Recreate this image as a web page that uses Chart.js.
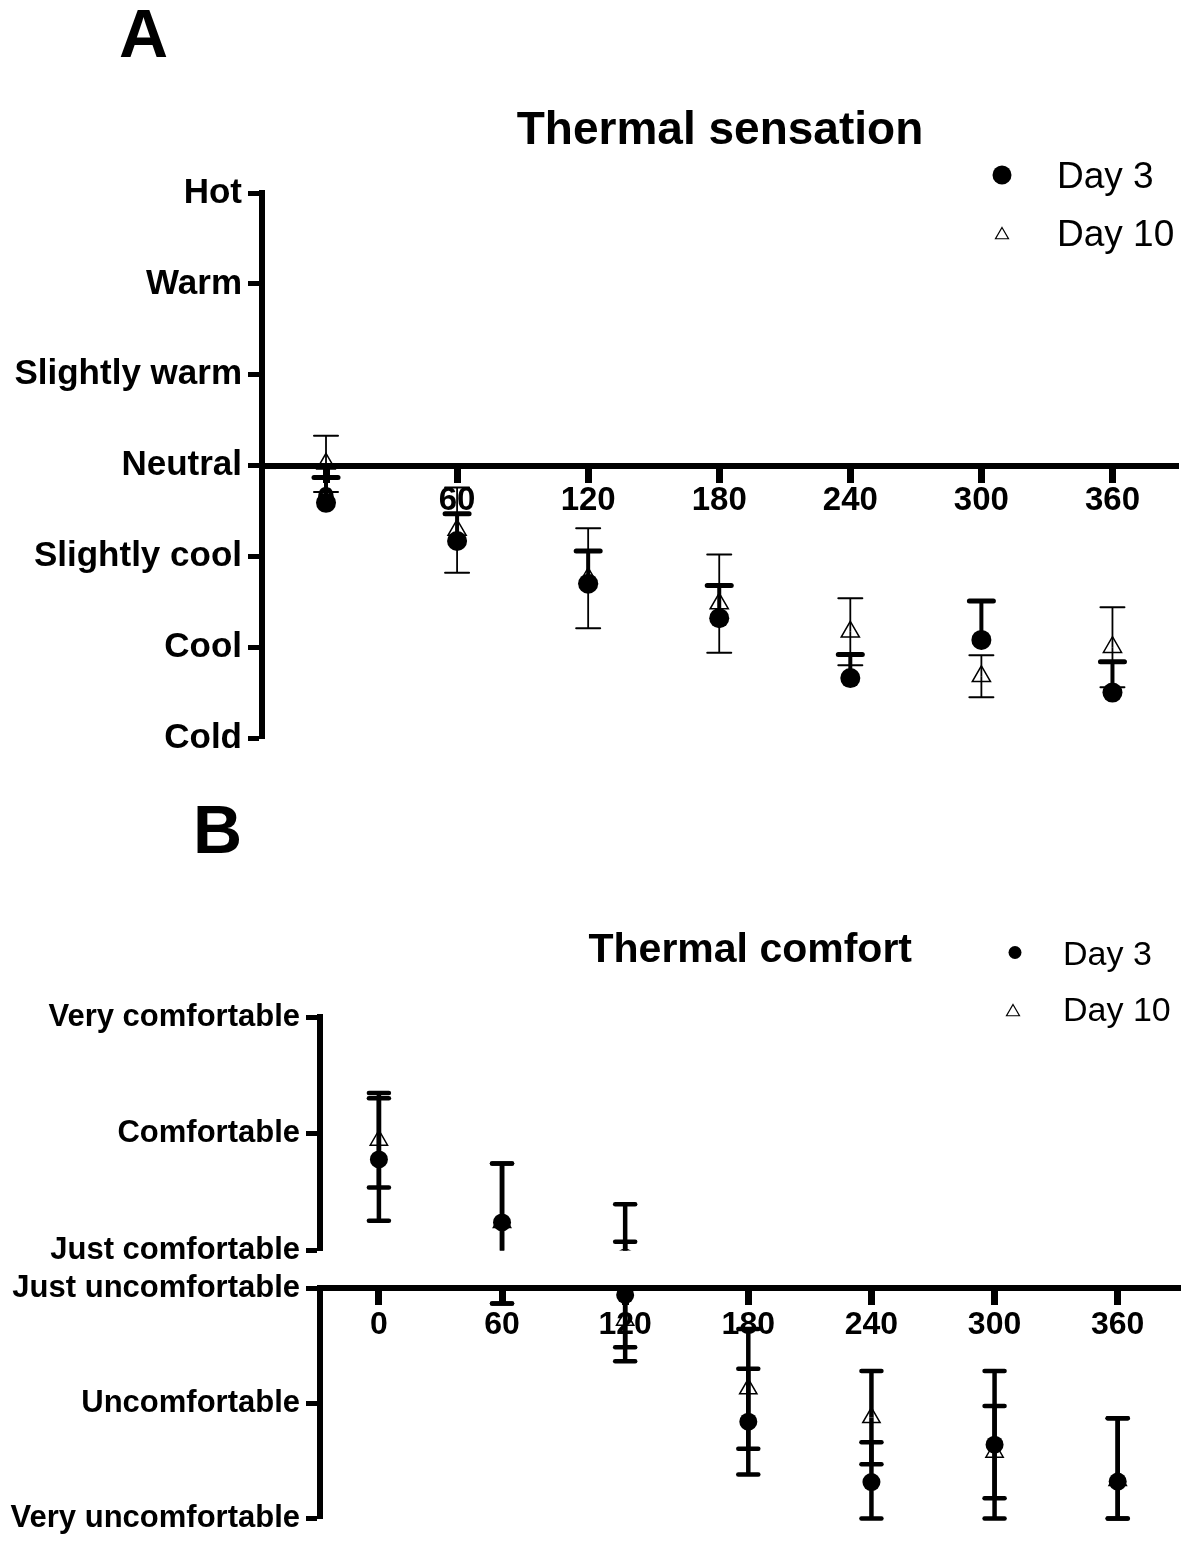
<!DOCTYPE html>
<html>
<head>
<meta charset="utf-8">
<script src="https://cdn.jsdelivr.net/npm/chart.js@4.4.1/dist/chart.umd.min.js"></script>
<style>
html,body{margin:0;padding:0;background:#fff;}
#wrap{position:relative;width:1192px;height:1543px;overflow:hidden;background:#fff;}
canvas{position:absolute;left:0;}
.panel{position:absolute;font-family:'Liberation Sans',Arial,Helvetica,sans-serif;font-weight:bold;font-size:68px;line-height:68px;color:#000;}
</style>
</head>
<body>
<div id="wrap">
  <div class="panel" style="left:119px;top:-1px">A</div>
  <div class="panel" style="left:193px;top:795px">B</div>
  <canvas id="chartA" width="1192" height="790" style="top:0;width:1192px;height:790px"></canvas>
  <canvas id="chartB1" width="1192" height="485" style="top:790px;width:1192px;height:485px"></canvas>
  <canvas id="chartB2" width="1192" height="281" style="top:1262px;width:1192px;height:281px"></canvas>
</div>
<script>
// ---------------- DATA ----------------
const timePoints = [0, 60, 120, 180, 240, 300, 360];

// Panel A: thermal sensation
const sensationTickValues = [-3, -2, -1, 0, 1, 2, 3];
const sensationTickLabels = ['Cold', 'Cool', 'Slightly cool', 'Neutral', 'Slightly warm', 'Warm', 'Hot'];
const sensationDay3 = [-0.41, -0.83, -1.30, -1.68, -2.34, -1.92, -2.50];
const sensationDay3ErrUp = [0.28, 0.30, 0.36, 0.36, 0.26, 0.43, 0.34];
const sensationDay3ErrDown = [null, null, null, null, null, null, null];
const sensationDay10 = [0.02, -0.71, -1.24, -1.52, -1.83, -2.32, -2.00];
const sensationDay10Err = [0.31, 0.47, 0.55, 0.54, 0.37, 0.23, 0.44];

// Panel B: thermal comfort (broken axis: +0 ... +4 above, -4 ... -0 below)
const comfortUpperTickValues = [0, 2, 4];
const comfortUpperTickLabels = ['Just comfortable', 'Comfortable', 'Very comfortable'];
const comfortLowerTickValues = [-4, -2, 0];
const comfortLowerTickLabels = ['Very uncomfortable', 'Uncomfortable', 'Just uncomfortable'];
const comfortDay3 = [1.56, 0.48, -0.12, -2.32, -3.37, -2.72, -3.36];
const comfortDay3ErrUp = [1.05, 1.01, 0.91, 0.92, 0.69, 1.28, 1.10];
const comfortDay3ErrDown = [1.05, 0.75, 0.91, 0.92, 0.69, 1.28, 1.10];
const comfortDay10 = [1.89, 0.48, -0.56, -1.75, -2.25, -2.85, -3.34];
const comfortDay10ErrUp = [0.81, 1.01, 0.71, 1.04, 0.81, 0.80, 1.08];
const comfortDay10ErrDown = [0.81, 0.75, 0.71, 1.04, 0.81, 0.80, 1.08];

const seriesLabels = ['Day 3', 'Day 10'];

// ---------------- HELPERS ----------------
const FONT = "'Liberation Sans', Arial, Helvetica, sans-serif";
Chart.defaults.font.family = FONT;
Chart.defaults.color = '#000';

function drawMarker(ctx, style, x, y, r, fill, stroke, bw) {
  ctx.beginPath();
  if (style === 'triangle') {
    let rad = 0;
    ctx.moveTo(x + Math.sin(rad) * r, y - Math.cos(rad) * r);
    rad += 2 * Math.PI / 3;
    ctx.lineTo(x + Math.sin(rad) * r, y - Math.cos(rad) * r);
    rad += 2 * Math.PI / 3;
    ctx.lineTo(x + Math.sin(rad) * r, y - Math.cos(rad) * r);
    ctx.closePath();
  } else {
    ctx.arc(x, y, r, 0, Math.PI * 2);
  }
  if (fill && fill !== 'rgba(0,0,0,0)') { ctx.fillStyle = fill; ctx.fill(); }
  if (bw) { ctx.lineWidth = bw; ctx.strokeStyle = stroke; ctx.stroke(); }
}

const errorBarsPlugin = {
  id: 'errorBars',
  beforeDatasetsDraw(chart, args, opts) {
    const {ctx, chartArea: a} = chart;
    const xs = chart.scales.x, ys = chart.scales.y;
    const pad = opts.clipPad || {top: 10, bottom: 10};
    const lo = opts.clampMin != null ? opts.clampMin : -Infinity;
    const hi = opts.clampMax != null ? opts.clampMax : Infinity;
    ctx.save();
    ctx.beginPath();
    ctx.rect(a.left - 40, a.top - pad.top, a.right - a.left + 80, a.bottom - a.top + pad.top + pad.bottom);
    ctx.clip();
    ctx.strokeStyle = '#000';
    const sets = chart.data.datasets;
    for (let di = sets.length - 1; di >= 0; di--) {
      const ds = sets[di];
      if (!chart.isDatasetVisible(di)) continue;
      ds.data.forEach((pt, i) => {
        const px = xs.getPixelForValue(pt.x);
        const py = ys.getPixelForValue(pt.y);
        const ends = [];
        if (ds.errUp && ds.errUp[i] != null) ends.push(Math.min(pt.y + ds.errUp[i], hi));
        if (ds.errDown && ds.errDown[i] != null) ends.push(Math.max(pt.y - ds.errDown[i], lo));
        ends.forEach(v => {
          const ey = ys.getPixelForValue(v);
          ctx.lineCap = 'butt';
          ctx.lineWidth = ds.errLineWidth;
          ctx.beginPath(); ctx.moveTo(px, py); ctx.lineTo(px, ey); ctx.stroke();
          ctx.lineCap = 'round';
          ctx.lineWidth = ds.errCapLineWidth;
          ctx.beginPath();
          ctx.moveTo(px - ds.errCapLength / 2, ey);
          ctx.lineTo(px + ds.errCapLength / 2, ey);
          ctx.stroke();
        });
      });
    }
    ctx.restore();
  }
};

const markerLegendPlugin = {
  id: 'markerLegend',
  afterDraw(chart, args, opts) {
    if (!opts || !opts.items) return;
    const ctx = chart.ctx;
    ctx.save();
    chart.data.datasets.forEach((ds, i) => {
      const it = opts.items[i];
      if (!it) return;
      drawMarker(ctx, ds.pointStyle, it.x, it.y, it.r, ds.pointBackgroundColor, ds.pointBorderColor, it.bw);
      ctx.fillStyle = '#000';
      ctx.font = opts.fontSize + 'px ' + FONT;
      ctx.textAlign = 'left';
      ctx.textBaseline = 'alphabetic';
      ctx.fillText(ds.label, opts.textX, it.ty + 0.36 * opts.fontSize);
    });
    ctx.restore();
  }
};

Chart.register(errorBarsPlugin, markerLegendPlugin);

function series(label, values, up, down, style) {
  return Object.assign({
    label: label,
    data: timePoints.map((t, i) => ({x: t, y: values[i]})),
    errUp: up,
    errDown: down,
    showLine: false
  }, style);
}

function yAxis(min, max, tickValues, tickLabels, leftWidth, fontSize) {
  return {
    type: 'linear', position: 'left', min: min, max: max,
    afterBuildTicks: s => { s.ticks = tickValues.map(v => ({value: v})); },
    afterFit: s => { s.width = leftWidth; },
    ticks: {
      font: {family: FONT, size: fontSize, weight: 'bold'}, color: '#000', padding: 6,
      autoSkip: false,
      callback: v => tickLabels[tickValues.indexOf(v)]
    },
    grid: {drawOnChartArea: false, drawTicks: true, tickLength: 14, tickWidth: 5, tickColor: '#000'},
    border: {display: true, width: 6, color: '#000'}
  };
}

function xAxis(min, max, fontSize, pad, show) {
  return {
    type: 'linear', min: min, max: max, position: {y: 0}, display: show,
    afterBuildTicks: s => { s.ticks = timePoints.map(v => ({value: v})); },
    ticks: {
      font: {family: FONT, size: fontSize, weight: 'bold'}, color: '#000', padding: pad,
      autoSkip: false, maxRotation: 0, callback: v => String(v)
    },
    grid: {drawOnChartArea: false, drawTicks: true, tickLength: 14, tickWidth: 7, tickColor: '#000'},
    border: {display: true, width: 6, color: '#000'}
  };
}

const commonOpts = {
  responsive: false, animation: false, devicePixelRatio: 1,
  events: []
};

// ---------------- PANEL A ----------------
const aDay3Style = {pointStyle: 'circle', pointRadius: 10, pointBackgroundColor: '#000', pointBorderColor: '#000', pointBorderWidth: 0,
  errLineWidth: 4, errCapLength: 24, errCapLineWidth: 5};
const aDay10Style = {pointStyle: 'triangle', pointRadius: 10.5, pointBackgroundColor: 'rgba(0,0,0,0)', pointBorderColor: '#000', pointBorderWidth: 1.5,
  errLineWidth: 1.8, errCapLength: 24, errCapLineWidth: 2};

new Chart(document.getElementById('chartA'), {
  type: 'scatter',
  data: {datasets: [
    series(seriesLabels[0], sensationDay3, sensationDay3ErrUp, sensationDay3ErrDown, aDay3Style),
    series(seriesLabels[1], sensationDay10, sensationDay10Err, sensationDay10Err, aDay10Style)
  ]},
  options: Object.assign({}, commonOpts, {
    layout: {padding: {left: 0, right: 14, top: 0, bottom: 52}},
    scales: {
      x: xAxis(-29.3, 390, 33, 2, true),
      y: yAxis(-3, 3, sensationTickValues, sensationTickLabels, 262, 35)
    },
    plugins: {
      legend: {display: false},
      tooltip: {enabled: false},
      title: {display: true, text: 'Thermal sensation', fullSize: false, color: '#000',
        font: {family: FONT, size: 46, weight: 'bold'}, padding: {top: 104, bottom: 34}},
      errorBars: {clipPad: {top: 10, bottom: 10}},
      markerLegend: {fontSize: 37, textX: 1057, items: [
        {x: 1002, y: 175, r: 9.5, ty: 175, bw: 0},
        {x: 1002, y: 235, r: 7.5, ty: 233, bw: 1.2}
      ]}
    }
  })
});

// ---------------- PANEL B ----------------
const bDay3Style = {pointStyle: 'circle', pointRadius: 9, pointBackgroundColor: '#000', pointBorderColor: '#000', pointBorderWidth: 0,
  errLineWidth: 4.5, errCapLength: 20, errCapLineWidth: 4.5, clip: 0};
const bDay10Style = {pointStyle: 'triangle', pointRadius: 10, pointBackgroundColor: 'rgba(0,0,0,0)', pointBorderColor: '#000', pointBorderWidth: 1.5,
  errLineWidth: 4.5, errCapLength: 20, errCapLineWidth: 4.5, clip: 0};

function comfortDatasets() {
  return [
    series(seriesLabels[0], comfortDay3, comfortDay3ErrUp, comfortDay3ErrDown, bDay3Style),
    series(seriesLabels[1], comfortDay10, comfortDay10ErrUp, comfortDay10ErrDown, bDay10Style)
  ];
}

// upper segment (+0 .. +4)
new Chart(document.getElementById('chartB1'), {
  type: 'scatter',
  data: {datasets: comfortDatasets()},
  options: Object.assign({}, commonOpts, {
    layout: {padding: {left: 0, right: 9, top: 0, bottom: 24}},
    scales: {
      x: xAxis(-28.7, 390.6, 32, 4, false),
      y: yAxis(0, 4, comfortUpperTickValues, comfortUpperTickLabels, 320, 31)
    },
    plugins: {
      legend: {display: false},
      tooltip: {enabled: false},
      title: {display: true, text: 'Thermal comfort', fullSize: false, color: '#000',
        font: {family: FONT, size: 41, weight: 'bold'}, padding: {top: 136, bottom: 42}},
      errorBars: {clipPad: {top: 10, bottom: 0}, clampMin: -4, clampMax: 4},
      markerLegend: {fontSize: 34, textX: 1063, items: [
        {x: 1015, y: 162.5, r: 6.5, ty: 162.5, bw: 0},
        {x: 1013, y: 222, r: 7.5, ty: 219, bw: 1.2}
      ]}
    }
  })
});

// lower segment (-4 .. -0) with the time axis on top
new Chart(document.getElementById('chartB2'), {
  type: 'scatter',
  data: {datasets: comfortDatasets()},
  options: Object.assign({}, commonOpts, {
    layout: {padding: {left: 0, right: 9, top: 26, bottom: 19}},
    scales: {
      x: xAxis(-28.7, 390.6, 32, 4, true),
      y: yAxis(-4, 0, comfortLowerTickValues, comfortLowerTickLabels, 320, 31)
    },
    plugins: {
      legend: {display: false},
      tooltip: {enabled: false},
      title: {display: false},
      errorBars: {clipPad: {top: 0, bottom: 6}, clampMin: -4, clampMax: 4}
    }
  })
});
</script>
</body>
</html>
